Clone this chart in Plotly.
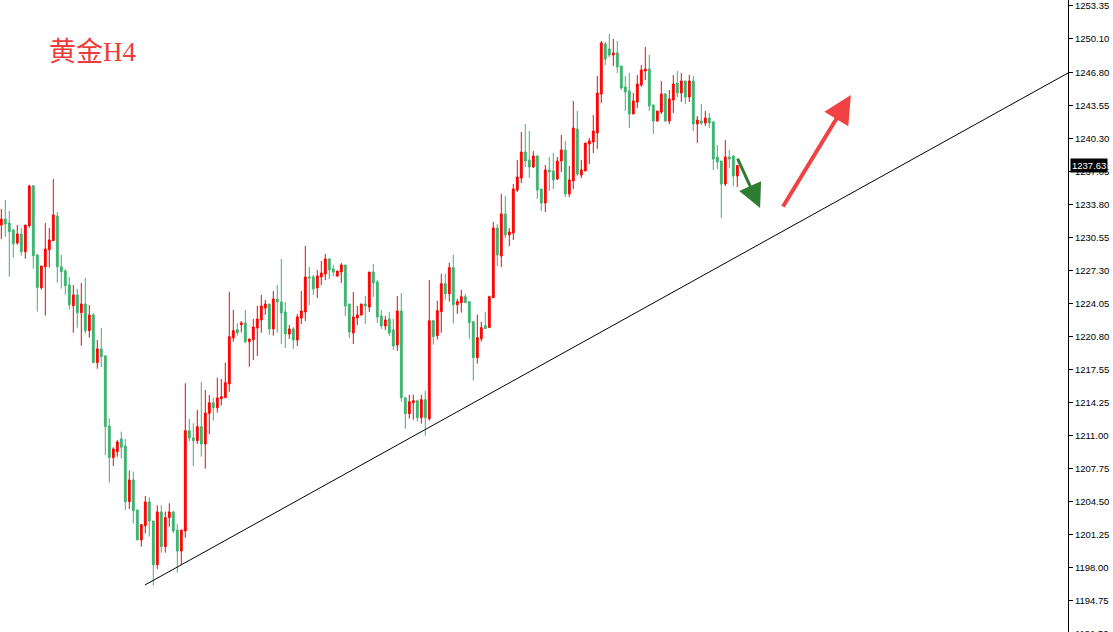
import plotly.graph_objects as go

# ---------------- data ----------------
opens = [1231.77,1232.36,1231.97,1231.28,1230.00,1230.89,1229.14,1231.70,1235.64,1228.82,
 1225.60,1227.66,1229.34,1230.23,1232.66,1227.66,1227.24,1225.86,1223.82,1224.88,
 1223.13,1223.99,1221.36,1222.91,1218.21,1219.56,1218.87,1211.97,1208.85,1209.44,
 1210.69,1210.00,1204.51,1206.65,1203.69,1200.74,1202.15,1204.48,1202.61,1198.30,
 1203.50,1200.08,1202.94,1203.50,1201.72,1199.65,1201.63,1211.51,1210.79,1210.52,
 1211.90,1210.20,1213.22,1214.26,1213.77,1214.66,1214.76,1216.11,1220.67,1221.46,
 1221.95,1222.12,1220.28,1220.47,1221.63,1222.41,1223.59,1223.99,1221.53,1224.48,
 1224.19,1223.20,1221.03,1221.53,1220.44,1222.61,1223.20,1226.65,1226.65,1225.57,
 1226.65,1226.94,1228.42,1227.44,1226.75,1227.14,1227.83,1223.99,1221.13,1222.61,
 1222.91,1223.99,1223.69,1227.14,1226.16,1222.81,1221.82,1222.51,1221.43,1219.95,
 1223.30,1214.76,1213.18,1214.26,1214.46,1212.79,1214.56,1212.69,1222.34,1220.87,
 1223.23,1225.99,1225.00,1227.57,1223.92,1224.12,1224.71,1224.22,1222.25,1218.70,
 1220.57,1221.85,1221.66,1224.61,1231.48,1228.72,1232.86,1230.79,1230.98,1235.22,
 1236.40,1238.96,1238.18,1237.49,1238.57,1235.32,1233.94,1237.19,1237.09,1236.30,
 1238.08,1239.16,1234.83,1236.11,1241.23,1236.70,1237.09,1239.75,1239.95,1240.84,
 1244.68,1249.61,1249.11,1248.52,1248.72,1247.44,1245.37,1244.97,1242.71,1243.89,
 1245.57,1246.94,1247.14,1243.60,1242.02,1242.90,1244.68,1242.02,1244.09,1245.76,
 1244.78,1245.96,1244.38,1245.96,1241.72,1242.02,1241.82,1242.31,1241.92,1238.47,
 1238.08,1235.81,1238.47,1238.57,1236.60]
highs = [1233.35,1234.24,1233.15,1231.38,1231.77,1231.48,1231.77,1235.74,1235.71,1228.92,
 1227.73,1231.97,1231.48,1236.30,1233.05,1228.82,1227.44,1226.65,1225.86,1225.47,
 1226.06,1226.55,1223.89,1223.10,1220.44,1221.62,1218.96,1212.73,1209.87,1210.59,
 1211.41,1210.66,1207.57,1207.47,1203.69,1202.25,1205.07,1204.94,1202.61,1204.16,
 1204.16,1203.53,1204.36,1203.60,1202.31,1201.72,1216.18,1212.66,1212.24,1213.55,
 1216.30,1215.52,1215.02,1214.76,1216.73,1216.60,1218.21,1225.20,1223.40,1222.09,
 1222.31,1223.40,1220.57,1222.51,1223.79,1224.88,1224.38,1223.99,1225.27,1225.86,
 1228.42,1224.19,1221.92,1221.72,1223.00,1225.27,1229.70,1227.63,1226.85,1227.34,
 1228.23,1228.92,1228.52,1227.83,1227.24,1228.03,1227.83,1223.99,1225.17,1223.79,
 1223.99,1224.78,1227.14,1227.93,1226.35,1223.40,1222.81,1223.20,1222.51,1224.78,
 1225.07,1214.76,1215.05,1215.05,1214.56,1215.05,1215.45,1226.35,1222.44,1224.31,
 1226.97,1226.97,1228.06,1228.85,1224.51,1225.40,1225.00,1224.22,1222.25,1222.93,
 1222.25,1223.23,1224.81,1232.07,1231.87,1234.83,1234.63,1231.48,1235.81,1238.18,
 1240.94,1241.72,1241.03,1239.06,1238.67,1235.32,1237.68,1238.47,1238.87,1238.47,
 1240.64,1240.05,1237.58,1243.99,1243.00,1238.18,1239.85,1240.34,1242.61,1246.45,
 1249.90,1249.80,1250.59,1250.10,1249.90,1247.44,1246.45,1246.75,1244.78,1246.55,
 1247.54,1249.31,1248.52,1243.60,1243.00,1245.96,1244.78,1245.07,1246.55,1246.94,
 1246.75,1245.96,1246.55,1246.45,1242.51,1243.69,1243.00,1242.81,1242.02,1239.65,
 1238.08,1240.15,1239.16,1238.67,1237.68]
lows = [1230.39,1230.62,1226.68,1228.55,1229.83,1228.75,1228.45,1231.51,1227.47,1223.23,
 1225.40,1222.84,1227.57,1230.20,1226.09,1225.50,1224.91,1223.43,1221.16,1221.65,
 1219.88,1221.06,1220.67,1218.21,1217.61,1217.78,1209.11,1206.38,1208.03,1208.95,
 1208.75,1203.69,1203.79,1202.34,1200.74,1200.08,1201.40,1201.07,1196.24,1197.88,
 1199.49,1199.49,1202.05,1201.40,1197.52,1198.27,1200.96,1210.46,1208.03,1210.20,
 1208.95,1207.76,1211.18,1212.49,1213.28,1214.00,1214.76,1215.35,1220.28,1220.87,
 1221.17,1220.12,1217.81,1218.47,1218.87,1221.16,1222.91,1220.96,1220.87,1221.16,
 1220.05,1219.65,1220.54,1219.56,1219.85,1222.02,1222.31,1223.89,1224.88,1224.58,
 1225.86,1226.35,1226.45,1226.75,1226.65,1226.06,1222.81,1220.64,1220.05,1221.92,
 1222.81,1222.02,1223.20,1224.68,1222.12,1221.53,1221.43,1220.84,1219.46,1219.36,
 1214.36,1211.70,1212.69,1212.59,1212.40,1212.20,1211.01,1212.49,1219.98,1220.47,
 1221.16,1224.41,1224.22,1222.05,1223.03,1223.13,1224.12,1220.57,1216.43,1218.11,
 1220.28,1221.56,1221.66,1224.61,1227.73,1227.63,1230.49,1229.70,1230.30,1235.02,
 1235.91,1237.49,1236.40,1237.39,1234.33,1233.15,1233.05,1235.12,1235.32,1236.21,
 1236.99,1234.53,1234.53,1235.32,1236.60,1236.40,1237.09,1237.78,1238.87,1239.26,
 1243.79,1247.54,1248.32,1247.44,1246.75,1245.07,1243.00,1241.33,1242.71,1243.30,
 1245.37,1246.06,1243.00,1240.74,1241.92,1242.71,1241.92,1241.72,1242.81,1244.38,
 1243.89,1243.69,1243.89,1241.03,1239.85,1241.62,1241.53,1241.33,1237.19,1237.29,
 1232.46,1235.61,1237.39,1235.61,1235.51]
closes = [1232.36,1231.87,1231.11,1229.93,1230.89,1229.14,1231.77,1235.61,1228.75,1225.60,
 1227.73,1229.41,1230.30,1232.76,1227.66,1227.17,1225.79,1223.92,1224.88,1223.13,
 1223.99,1221.36,1222.91,1218.21,1219.56,1218.80,1211.90,1208.85,1209.70,1210.39,
 1209.87,1204.51,1206.65,1203.62,1200.74,1202.25,1204.48,1202.61,1198.30,1203.50,
 1200.08,1202.94,1203.50,1201.63,1199.65,1201.72,1211.51,1210.79,1210.52,1211.90,
 1210.20,1213.25,1214.26,1213.77,1214.73,1214.86,1216.24,1220.77,1221.36,1221.16,
 1222.12,1220.28,1220.54,1221.72,1222.51,1223.79,1223.99,1221.53,1224.48,1224.19,
 1223.10,1221.03,1221.53,1220.44,1222.71,1223.30,1226.65,1226.55,1225.47,1226.75,
 1227.04,1228.42,1227.34,1227.14,1227.24,1227.83,1223.79,1221.23,1222.71,1222.91,
 1223.99,1223.79,1227.14,1226.06,1222.71,1221.82,1222.41,1221.13,1219.85,1223.30,
 1214.76,1213.18,1214.36,1214.46,1212.79,1214.56,1212.79,1222.34,1220.77,1223.33,
 1225.99,1225.00,1227.57,1223.92,1224.22,1224.71,1224.12,1222.15,1218.70,1220.67,
 1221.66,1221.56,1224.71,1231.48,1228.82,1232.86,1230.79,1231.08,1235.32,1236.50,
 1238.96,1238.08,1237.49,1238.57,1235.22,1233.94,1237.19,1236.99,1236.21,1238.08,
 1239.16,1234.83,1236.21,1241.33,1236.80,1237.19,1239.85,1240.05,1241.03,1244.78,
 1249.70,1248.13,1248.52,1248.72,1247.34,1245.27,1244.88,1242.71,1243.99,1245.66,
 1247.04,1247.14,1243.50,1242.02,1243.00,1244.68,1242.02,1244.19,1245.66,1244.78,
 1245.96,1244.38,1245.96,1241.72,1242.12,1241.82,1242.31,1241.82,1238.27,1237.98,
 1235.81,1238.47,1238.27,1236.60,1237.63]
bars = list(range(len(opens)))

tick_values = [1253.35,1250.10,1246.80,1243.55,1240.30,1237.05,1233.80,1230.55,1227.30,
               1224.05,1220.80,1217.55,1214.25,1211.00,1207.75,1204.50,1201.25,1198.00,
               1194.75]
tick_labels = ["%.2f" % v for v in tick_values]
edge_tick = 1191.50          # bottom label, mostly cut off by the window edge
last_price = 1237.63
title_text = "黄金H4"
y_min, y_max = 1191.67, 1253.94

# trend line anchors (bar index, price)
trend_start = (35.9, 1196.30)
trend_end = (266.7, 1246.75)
# arrows: (tail bar, tail price, head bar, head price)
red_arrow = (195.2, 1233.45, 212.4, 1244.58)
green_arrow = (183.9, 1238.47, 189.7, 1233.45)

UP = "#FF0000"
DOWN = "rgb(60,179,113)"
AXIS_FONT = dict(family="Liberation Sans", size=9.5, color="black")

fig = go.Figure()
fig.add_trace(go.Candlestick(
    x=bars, open=opens, high=highs, low=lows, close=closes,
    increasing=dict(fillcolor=UP, line=dict(color=UP, width=1)),
    decreasing=dict(fillcolor=DOWN, line=dict(color=DOWN, width=1)),
    whiskerwidth=0, hoverinfo="skip",
))

fig.add_shape(type="line", xref="x", yref="y",
              x0=trend_start[0], y0=trend_start[1], x1=trend_end[0], y1=trend_end[1],
              line=dict(color="black", width=1))

fig.add_annotation(x=red_arrow[2], y=red_arrow[3], ax=red_arrow[0], ay=red_arrow[1],
                   xref="x", yref="y", axref="x", ayref="y", text="", showarrow=True,
                   arrowhead=2, arrowwidth=4, arrowsize=1.4, arrowcolor="#F04242", standoff=0)
fig.add_annotation(x=green_arrow[2], y=green_arrow[3], ax=green_arrow[0], ay=green_arrow[1],
                   xref="x", yref="y", axref="x", ayref="y", text="", showarrow=True,
                   arrowhead=2, arrowwidth=3, arrowsize=1.6, arrowcolor="#2E7D32", standoff=0)

fig.add_annotation(x=47/1068, y=1-52/632, xref="paper", yref="paper",
                   xanchor="left", yanchor="middle", showarrow=False, text=title_text,
                   font=dict(family="Liberation Serif, Noto Sans CJK SC", size=27, color="#EE3B3B"))

fig.add_annotation(x=1, y=last_price, xref="paper", yref="y", xanchor="left", yanchor="middle",
                   xshift=2, showarrow=False, text="%.2f" % last_price, bgcolor="black",
                   borderpad=1, font=dict(family="Liberation Sans", size=9.5, color="white"))

fig.add_annotation(x=1, y=(edge_tick - y_min) / (y_max - y_min), xref="paper", yref="paper",
                   xanchor="left", yanchor="middle", xshift=5, showarrow=False,
                   text="%.2f" % edge_tick, font=AXIS_FONT)

fig.update_layout(
    width=1113, height=632,
    margin=dict(l=0, r=45, t=0, b=0),
    paper_bgcolor="white", plot_bgcolor="white",
    showlegend=False, boxgap=0.35, hovermode=False,
    xaxis=dict(visible=False, range=[-0.325, 266.675], rangeslider=dict(visible=False)),
    yaxis=dict(side="right", range=[y_min, y_max], tickvals=tick_values, ticktext=tick_labels,
               showgrid=False, zeroline=False, showline=True, linecolor="black", linewidth=1,
               ticks="outside", ticklen=4, tickcolor="black", tickfont=AXIS_FONT),
)

fig.write_html("out.html", config={"displayModeBar": False},
               post_script="document.body.style.margin='0';document.body.style.overflow='hidden';")
